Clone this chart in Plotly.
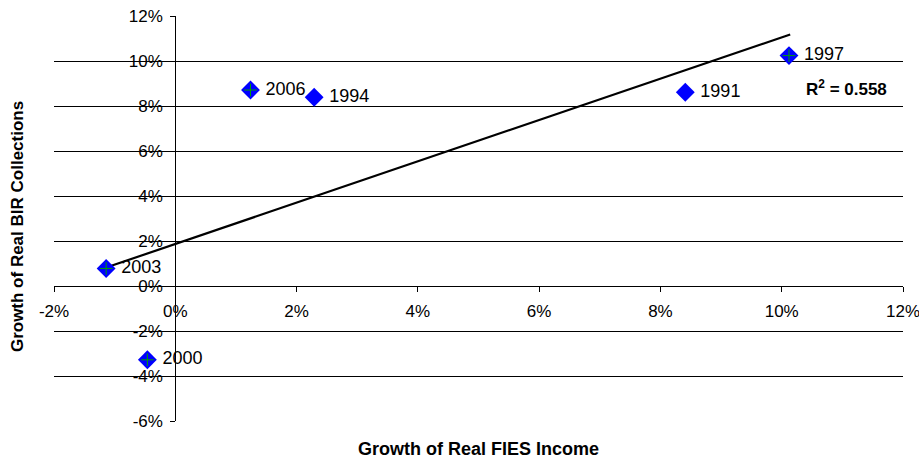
import plotly.graph_objects as go

years = ["2006", "1994", "1991", "1997", "2003", "2000"]
fies_growth = [1.24, 2.29, 8.41, 10.12, -1.14, -0.46]
bir_growth = [8.71, 8.39, 8.61, 10.24, 0.78, -3.28]
cross_years = ["2006", "1997", "2003", "2000"]
trend_x = [-1.14, 10.14]
trend_y = [0.82, 11.18]
x_ticks = [-2, 0, 2, 4, 6, 8, 10, 12]
y_ticks = [-6, -4, -2, 0, 2, 4, 6, 8, 10, 12]
r2_text = "R<sup>2</sup> = 0.558"

FONT = "Liberation Sans, Arial, sans-serif"

fig = go.Figure()
fig.add_trace(go.Scatter(
    x=trend_x, y=trend_y, mode="lines",
    line=dict(color="black", width=2.2), hoverinfo="skip", showlegend=False))
fig.add_trace(go.Scatter(
    x=fies_growth, y=bir_growth, mode="markers+text",
    marker=dict(symbol="diamond", size=14.5, color="#0000FF", line=dict(width=0)),
    text=[" " + y for y in years], textposition="middle right",
    textfont=dict(family=FONT, size=18, color="black"), showlegend=False,
    cliponaxis=False))
cx = [fies_growth[years.index(y)] for y in cross_years]
cy = [bir_growth[years.index(y)] for y in cross_years]
fig.add_trace(go.Scatter(
    x=cx, y=cy, mode="markers",
    marker=dict(symbol="cross-thin", size=9, line=dict(color="#00A000", width=1)),
    hoverinfo="skip", showlegend=False))

fig.update_layout(
    width=919, height=459,
    margin=dict(l=54, r=16, t=16, b=38),
    paper_bgcolor="white", plot_bgcolor="white",
    font=dict(family=FONT, size=17, color="black"),
    xaxis=dict(range=[-2, 12], tickvals=x_ticks,
               ticktext=[f"{v}%" for v in x_ticks],
               showgrid=False, zeroline=False, showline=True,
               linecolor="black", linewidth=1, ticks="outside", ticklen=5,
               tickcolor="black", anchor="free", position=1/3,
               domain=[0, 1], automargin=False, ticklabeloverflow="allow",
               ticklabelstandoff=5, tickfont=dict(size=17)),
    yaxis=dict(range=[-6, 12], tickvals=y_ticks,
               ticktext=[f"{v}%" for v in y_ticks],
               showgrid=True, gridcolor="black", gridwidth=1,
               zeroline=False, showline=True,
               linecolor="black", linewidth=1, ticks="outside", ticklen=5,
               tickcolor="black", anchor="free", position=1/7,
               domain=[0, 1], automargin=False, ticklabelstandoff=4,
               ticklabeloverflow="allow", tickfont=dict(size=17)),
)

fig.add_annotation(text="Growth of Real FIES Income", xref="paper", yref="paper",
                   x=0.5, y=-0.07, yanchor="middle", showarrow=False,
                   font=dict(family=FONT, size=18, color="black", weight="bold"))
fig.add_annotation(text="Growth of Real BIR Collections", xref="paper", yref="paper",
                   x=-0.043, y=0.48, textangle=-90, xanchor="center", showarrow=False,
                   font=dict(family=FONT, size=17, color="black", weight="bold"))
fig.add_annotation(text=r2_text, xref="x", yref="y", x=11.07, y=8.8,
                   showarrow=False,
                   font=dict(family=FONT, size=17, color="black", weight="bold"))

fig.write_html("out.html", config={"displayModeBar": False},
               post_script="document.body.style.margin='0';document.body.style.overflow='hidden';")
